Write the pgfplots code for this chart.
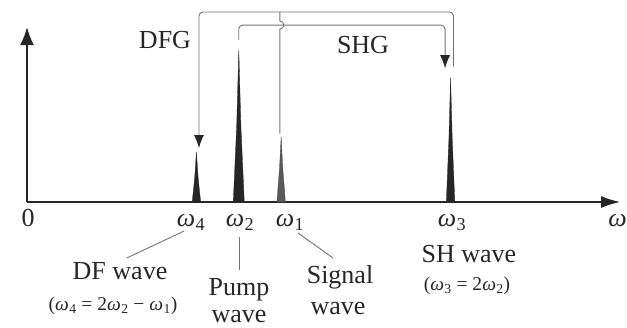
\documentclass[border=0pt]{standalone}
\usepackage{fontspec}
\setmainfont{Liberation Serif}
\usepackage{pgfplots}
\pgfplotsset{compat=1.18}
\usetikzlibrary{arrows.meta}

% angular frequency with a subscript
\newcommand{\om}[1]{\textit{ω}\kern0.02em\textsubscript{#1}}

\begin{document}
\begin{tikzpicture}[
  lab/.style={font=\fontsize{26bp}{30bp}\selectfont, inner sep=0pt, anchor=base, text=black!85},
  eq/.style={font=\fontsize{19.5bp}{23bp}\selectfont, inner sep=0pt, anchor=base, text=black!85},
  guide/.style={black!55, line width=0.9bp},
  tip/.style={-{Latex[length=13bp,width=10bp,color=black!85]}},
]
\path[use as bounding box] (-27bp,-126bp) rectangle (600bp,202bp);
\begin{axis}[
  at={(0,0)}, anchor=south west,
  scale only axis, width=593bp, height=174.8bp,
  xmin=0, xmax=14, ymin=0, ymax=1.15,
  axis lines=left, xtick=\empty, ytick=\empty,
  clip=false,
  axis line style={line width=1.3bp, black!85},
  x axis line style={-{Latex[length=19bp,width=12bp]}},
  y axis line style={-{Latex[length=18bp,width=14bp]}},
]

% spectral lines
\addplot[fill=black!85, draw=black!85, line width=0.3bp] coordinates
  {(3.90,0) (3.93,0.08) (3.96,0.165) (4.0,0.33) (4.04,0.165) (4.07,0.08) (4.10,0)} -- cycle; % omega_4
\addplot[fill=black!85, draw=black!85, line width=0.3bp] coordinates
  {(4.87,0) (4.91,0.25) (4.95,0.5) (5.0,1.0) (5.05,0.5) (5.09,0.25) (5.13,0)} -- cycle; % omega_2
\addplot[fill=black!65, draw=black!75, line width=0.3bp] coordinates
  {(5.90,0) (5.93,0.11) (5.96,0.215) (6.0,0.43) (6.04,0.215) (6.07,0.11) (6.10,0)} -- cycle; % omega_1
\addplot[fill=black!85, draw=black!85, line width=0.3bp] coordinates
  {(9.90,0) (9.93,0.205) (9.96,0.41) (10.0,0.82) (10.04,0.41) (10.07,0.205) (10.10,0)} -- cycle; % omega_3

% process paths: SHG (omega_2 -> omega_3) and DFG (omega_3, omega_1 -> omega_4)
\draw[guide, rounded corners=4bp, tip]
  (10.07,0.89) -- (10.07,1.25) -- (4.06,1.25) -- (4.06,0.355);
\draw[guide, rounded corners=4bp, tip]
  (5.0,1.066) -- (5.0,1.164) -- (9.87,1.164) -- (9.87,0.88);
\draw[guide] (5.97,0.45) -- (5.97,1.138)
  arc[start angle=-90, end angle=90, radius=4bp] -- (5.97,1.25);

\node[lab] at (3.258,1.007) {DFG};
\node[lab] at (7.933,0.980) {SHG};

% axis labels
\node[lab] at (0.024,-0.164) {0};
\node[lab] at (3.872,-0.164) {\om{4}};
\node[lab] at (5.029,-0.164) {\om{2}};
\node[lab] at (6.209,-0.164) {\om{1}};
\node[lab] at (10.034,-0.164) {\om{3}};
\node[lab, anchor=base west] at (13.72,-0.164) {\textit{ω}};

% leaders to the wave names
\draw[guide] (3.707,-0.191) -- (2.361,-0.368);
\draw[guide] (5.005,-0.230) -- (5.005,-0.447);
\draw[guide] (6.398,-0.204) -- (7.224,-0.368);

\node[lab] at (2.196,-0.513) {DF wave};
\node[eq]  at (2.030,-0.711) {(\om{4} = 2\om{2} − \om{1})};
\node[lab] at (5.005,-0.618) {Pump};
\node[lab] at (5.005,-0.795) {wave};
\node[lab] at (7.390,-0.533) {Signal};
\node[lab] at (7.342,-0.743) {wave};
\node[lab] at (10.435,-0.395) {SH wave};
\node[eq]  at (10.388,-0.579) {(\om{3} = 2\om{2})};

\end{axis}
\end{tikzpicture}
\end{document}
